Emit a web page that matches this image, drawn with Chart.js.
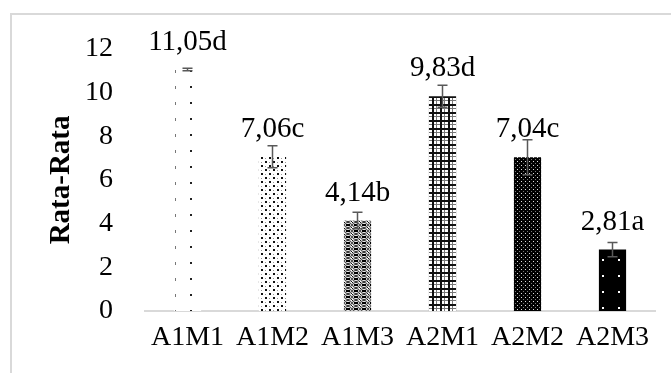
<!DOCTYPE html>
<html lang="id">
<head>
<meta charset="UTF-8">
<title>Rata-Rata</title>
<script src="https://cdn.jsdelivr.net/npm/chart.js"></script>
<style>
  html, body { margin: 0; padding: 0; background: #fff; }
  #wrap { position: relative; width: 671px; height: 373px; }
</style>
</head>
<body>
<div id="wrap"><canvas id="chart" width="671" height="373"></canvas></div>
<script>
// data
const categories = ['A1M1', 'A1M2', 'A1M3', 'A2M1', 'A2M2', 'A2M3'];
const means = [11.05, 7.06, 4.14, 9.83, 7.04, 2.81];
const errors = [0.06, 0.5, 0.38, 0.5, 0.8, 0.33];
const barLabels = ['11,05d', '7,06c', '4,14b', '9,83d', '7,04c', '2,81a'];
const yMin = 0, yMax = 12, yStep = 2;

const FONT = '"Liberation Serif", "Times New Roman", serif';

function makePattern(w, h, draw) {
  const c = document.createElement('canvas');
  c.width = w; c.height = h;
  const g = c.getContext('2d');
  draw(g);
  return g.createPattern(c, 'repeat');
}

// fill patterns, one per bar
const patterns = [
  makePattern(32, 16, g => {       // sparse dots
    g.fillStyle = '#fff'; g.fillRect(0, 0, 32, 16);
    g.fillStyle = '#777'; g.fillRect(15, 6, 1, 3);
    g.fillStyle = '#222'; g.fillRect(30, 6, 2, 2);
  }),
  makePattern(8, 8, g => {         // dotted lattice
    g.fillStyle = '#fff'; g.fillRect(0, 0, 8, 8);
    g.fillStyle = '#111'; g.fillRect(1, 1, 2, 2); g.fillRect(5, 5, 2, 2);
    g.fillStyle = '#999'; g.fillRect(5, 2, 1, 1); g.fillRect(1, 6, 1, 1);
  }),
  makePattern(8, 6, g => {         // weave
    g.fillStyle = '#fff'; g.fillRect(0, 0, 8, 6);
    g.strokeStyle = '#222'; g.lineWidth = 1;
    g.beginPath(); g.ellipse(4, 3, 3.5, 2.5, 0, 0, Math.PI * 2); g.stroke();
    g.fillStyle = '#000'; g.fillRect(2, 2, 4, 2);
    g.fillStyle = '#111'; g.fillRect(0, 0, 1, 1); g.fillRect(7, 5, 1, 1);
  }),
  makePattern(8, 8, g => {         // plaid
    g.fillStyle = '#fff'; g.fillRect(0, 0, 8, 8);
    g.fillStyle = '#111'; g.fillRect(0, 0, 8, 2); g.fillRect(0, 0, 2, 8);
    g.fillStyle = '#777'; g.fillRect(4, 2, 1, 6); g.fillRect(2, 4, 6, 1);
  }),
  makePattern(4, 4, g => {         // dense dark
    g.fillStyle = '#000'; g.fillRect(0, 0, 4, 4);
    g.fillStyle = '#ddd'; g.fillRect(1, 1, 1, 1);
    g.fillStyle = '#777'; g.fillRect(3, 3, 1, 1);
  }),
  makePattern(16, 16, g => {       // black with white dots
    g.fillStyle = '#000'; g.fillRect(0, 0, 16, 16);
    g.fillStyle = '#fff'; g.fillRect(10, 3, 2, 2);
  })
];

// light grey frame round the chart
const framePlugin = {
  id: 'frame',
  beforeDraw(chart) {
    const ctx = chart.ctx;
    ctx.save();
    ctx.strokeStyle = '#d9d9d9';
    ctx.lineWidth = 2;
    ctx.beginPath();
    ctx.moveTo(11, chart.height);
    ctx.lineTo(11, 14);
    ctx.lineTo(chart.width, 14);
    ctx.stroke();
    ctx.restore();
  }
};

// error bars and value labels
const errorLabelPlugin = {
  id: 'errorLabels',
  afterDatasetsDraw(chart) {
    const ctx = chart.ctx;
    const y = chart.scales.y;
    const meta = chart.getDatasetMeta(0);
    ctx.save();
    meta.data.forEach((bar, i) => {
      const top = y.getPixelForValue(means[i] + errors[i]);
      const bot = y.getPixelForValue(means[i] - errors[i]);
      ctx.strokeStyle = '#595959';
      ctx.lineWidth = 1.5;
      ctx.beginPath();
      ctx.moveTo(bar.x, top); ctx.lineTo(bar.x, bot);
      ctx.moveTo(bar.x - 5, top); ctx.lineTo(bar.x + 5, top);
      ctx.moveTo(bar.x - 5, bot); ctx.lineTo(bar.x + 5, bot);
      ctx.stroke();

      ctx.fillStyle = '#000';
      ctx.font = '29px ' + FONT;
      ctx.textAlign = 'center';
      ctx.textBaseline = 'alphabetic';
      ctx.fillText(barLabels[i], bar.x, bar.y - 20);
    });
    ctx.restore();
  }
};

new Chart(document.getElementById('chart'), {
  type: 'bar',
  data: {
    labels: categories,
    datasets: [{
      data: means,
      backgroundColor: patterns,
      borderWidth: 0,
      barPercentage: 0.32,
      categoryPercentage: 1
    }]
  },
  options: {
    responsive: false,
    animation: false,
    layout: { padding: { left: 40, top: 44, right: 16, bottom: 0 } },
    plugins: { legend: { display: false }, tooltip: { enabled: false } },
    scales: {
      x: {
        grid: { display: false, drawTicks: false },
        border: { display: true, color: '#d9d9d9', width: 2 },
        ticks: { color: '#000', font: { family: FONT, size: 28 }, padding: 10, maxRotation: 0 },
        afterFit(s) { s.height = 62; }
      },
      y: {
        min: yMin, max: yMax,
        grid: { display: false, drawTicks: false },
        border: { display: false },
        ticks: { stepSize: yStep, color: '#000', font: { family: FONT, size: 28 }, padding: 32 },
        title: {
          display: true, text: 'Rata-Rata', color: '#000',
          font: { family: FONT, size: 29, weight: 'bold' },
          padding: { top: 4, bottom: 0 }
        },
        afterFit(s) { s.width = 105; }
      }
    }
  },
  plugins: [framePlugin, errorLabelPlugin]
});
</script>
</body>
</html>
